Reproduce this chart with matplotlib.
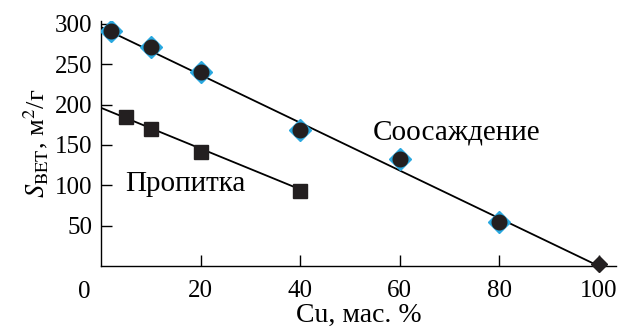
import matplotlib
matplotlib.use("Agg")
import matplotlib.pyplot as plt

plt.rcParams['font.family'] = ['Liberation Serif', 'DejaVu Serif']
plt.rcParams['mathtext.fontset'] = 'stix'

# Data
copr_x = [2, 10, 20, 40, 60, 80]
copr_y = [291, 271, 240, 168, 133, 54]
copr_end_x = [100]
copr_end_y = [2]
copr_line_x = [0, 100]
copr_line_y = [296, 0]

imp_x = [5, 10, 20, 40]
imp_y = [185, 170, 141, 93]
imp_line_x = [0, 40]
imp_line_y = [196, 95]

xticks = [20, 40, 60, 80, 100]
yticks = [50, 100, 150, 200, 250, 300]

FS = 18

fig = plt.figure(figsize=(6.21, 3.30), dpi=100)
ax = fig.add_axes([0.1626, 0.194, 0.8294, 0.741])

ax.plot(copr_line_x, copr_line_y, color='black', lw=1.3, zorder=2)
ax.plot(imp_line_x, imp_line_y, color='black', lw=1.3, zorder=2)

ax.plot(copr_x, copr_y, linestyle='none', marker='D', ms=11, mfc='#29a8e0',
        mec='#29a8e0', zorder=3)
ax.plot(copr_x, copr_y, linestyle='none', marker='o', ms=10.5, mfc='#231f20',
        mec='#231f20', zorder=4)
ax.plot(copr_end_x, copr_end_y, linestyle='none', marker='D', ms=8, mfc='#231f20',
        mec='#231f20', zorder=4, clip_on=False)
ax.plot(imp_x, imp_y, linestyle='none', marker='s', ms=10, mfc='#231f20',
        mec='#231f20', zorder=4)

ax.set_xlim(0, 103.5)
ax.set_ylim(0, 303)
ax.set_xticks(xticks)
ax.set_yticks(yticks)
ax.spines['top'].set_visible(False)
ax.spines['right'].set_visible(False)
for s in ['left', 'bottom']:
    ax.spines[s].set_linewidth(1.0)
ax.tick_params(direction='in', length=8, width=1.0, labelsize=FS)
ax.tick_params(axis='x', pad=10)
ax.tick_params(axis='y', pad=6)

ax.annotate('0', xy=(0, 0), xycoords='data', xytext=(-12, -11),
            textcoords='offset points', fontsize=FS, ha='center', va='top')

ax.set_xlabel('Cu, мас. %', fontsize=20, labelpad=1)
ax.set_ylabel(r'$S_{\mathrm{BET}}$, м$^2$/г', fontsize=19, labelpad=4)

ax.text(71.4, 166, 'Соосаждение', fontsize=21, ha='center', va='center')
ax.text(17, 102, 'Пропитка', fontsize=21, ha='center', va='center')

fig.savefig('out.png', dpi=100)
